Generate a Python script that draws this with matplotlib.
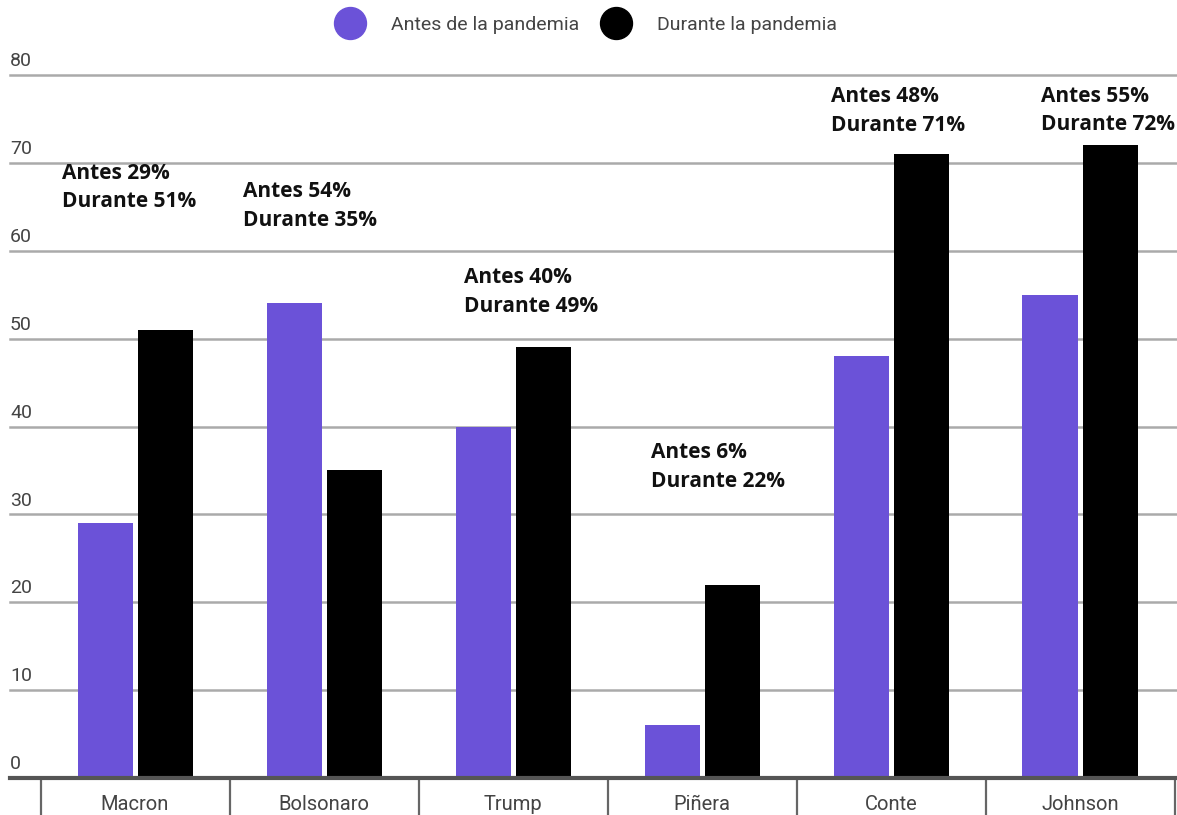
import matplotlib
matplotlib.use("Agg")
import matplotlib.pyplot as plt
from matplotlib.lines import Line2D
import matplotlib.transforms as mtransforms
import numpy as np

# ---- data ----
leaders = ["Macron", "Bolsonaro", "Trump", "Piñera", "Conte", "Johnson"]
antes = [29, 54, 40, 6, 48, 55]
durante = [51, 35, 49, 22, 71, 72]
series_names = ["Antes de la pandemia", "Durante la pandemia"]
yticks = [0, 10, 20, 30, 40, 50, 60, 70, 80]

# ---- layout constants (annotation placement, not data) ----
note_dx = [-0.386, -0.429, -0.26, -0.27, -0.32, -0.206]
note_top = [70.0, 67.9, 58.1, 38.2, 78.7, 78.8]

PURPLE = "#6B52D8"
BLACK = "#000000"
GRID = "#AAAAAA"
TXT = "#444444"

W, H = 1177, 815
fig = plt.figure(figsize=(W / 100, H / 100), dpi=100)

ymax = 82
ppu = (778 - 75) / 80.0
top_px = 778 - ymax * ppu
ax = fig.add_axes([10 / W, (H - 778) / H, 1167 / W, (778 - top_px) / H])

xmin = -125 / 189
xmax = xmin + 1167 / 189
ax.set_xlim(xmin, xmax)
ax.set_ylim(0, ymax)

x = np.arange(len(leaders))
bw = 55 / 189
off = 30 / 189
ax.bar(x - off, antes, width=bw, color=PURPLE, zorder=3)
ax.bar(x + off, durante, width=bw, color=BLACK, zorder=3)

# gridlines
for yv in yticks[1:]:
    ax.axhline(yv, color=GRID, lw=1.8, zorder=1, clip_on=False)
ax.axhline(0, color="#555555", lw=3, zorder=4, clip_on=False)

for s in ax.spines.values():
    s.set_visible(False)

# y tick labels: left-aligned, sitting above the grid lines
ax.set_yticks(yticks)
ax.set_yticklabels([str(v) for v in yticks], fontsize=14, color=TXT, family="Roboto")
ax.tick_params(axis="y", length=0, pad=0)
offset = mtransforms.ScaledTranslation(0, 3.5 / 72, fig.dpi_scale_trans)
for lbl in ax.get_yticklabels():
    lbl.set_horizontalalignment("left")
    lbl.set_verticalalignment("bottom")
    lbl.set_transform(lbl.get_transform() + offset)

# x axis: category labels and separators
ax.set_xticks(x)
ax.set_xticklabels(leaders, fontsize=14.5, color=TXT, family="Roboto")
ax.set_xticks(np.arange(len(leaders) + 1) - 0.5, minor=True)
ax.tick_params(axis="x", which="major", length=0, pad=12)
ax.tick_params(axis="x", which="minor", length=28, width=1.6, color="#666666", direction="out")

# annotations
for i in range(len(leaders)):
    ax.text(i + note_dx[i], note_top[i],
            f"Antes {antes[i]}%\nDurante {durante[i]}%",
            fontsize=15, fontweight="bold", family="Open Sans",
            ha="left", va="top", linespacing=1.45, color="#111111", zorder=5)

# legend
handles = [
    Line2D([], [], marker="o", linestyle="none", markersize=23, markerfacecolor=PURPLE, markeredgecolor=PURPLE),
    Line2D([], [], marker="o", linestyle="none", markersize=23, markerfacecolor=BLACK, markeredgecolor=BLACK),
]
leg = fig.legend(handles, series_names, loc="center", bbox_to_anchor=(584 / W, 1 - 25 / H),
                 ncol=2, frameon=False, handletextpad=1.1, columnspacing=0.9,
                 prop={"family": "Roboto", "size": 14})
for t in leg.get_texts():
    t.set_color(TXT)

fig.savefig("out.png", dpi=100)
